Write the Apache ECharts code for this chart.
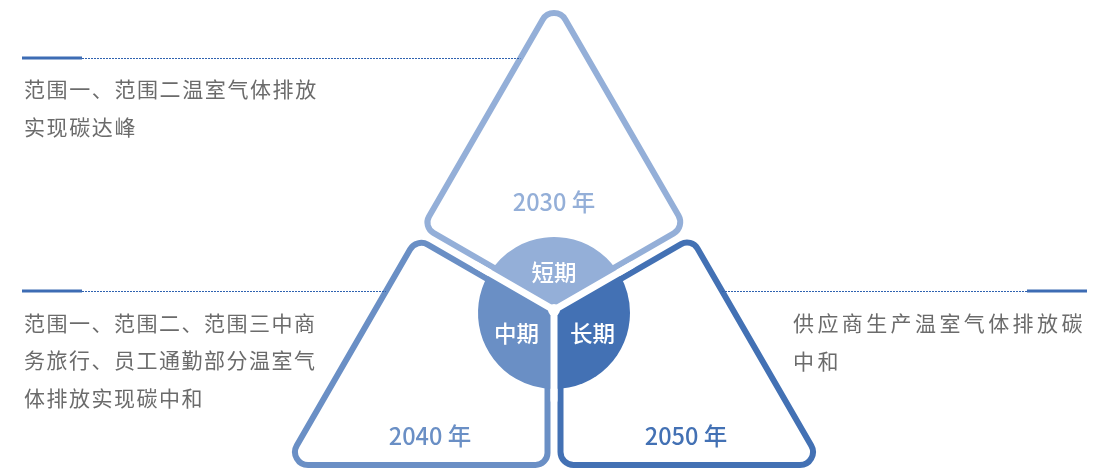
<!DOCTYPE html>
<html>
<head>
<meta charset="utf-8">
<script src="https://cdn.jsdelivr.net/npm/echarts/dist/echarts.min.js"></script>
<style>
html,body{margin:0;padding:0;background:#fff;}
#chart{width:1109px;height:470px;}
</style>
</head>
<body>
<div id="chart"></div>
<script>
// ---- data ----
const phases = ['短期', '中期', '长期'];
const phaseShare = [1, 1, 1];
const years = ['2030 年', '2040 年', '2050 年'];
const descTop = ['范围一、范围二温室气体排放', '实现碳达峰'];
const descMid = ['范围一、范围二、范围三中商', '务旅行、员工通勤部分温室气', '体排放实现碳中和'];
const descRight = ['供应商生产温室气体排放碳', '中和'];

// ---- style / layout ----
const colors = ['#94afd8', '#6a8fc5', '#4371b4'];
const FONT = '"Noto Sans CJK SC", "Noto Sans", sans-serif';
const textGray = '#6b6b6b';
const lineBlue = '#3d6cb4';

const CX = 554, TOPY = 0, BASEY = 465;
const HALF = (BASEY - TOPY) / Math.sqrt(3);
const VT = [CX, TOPY], VBL = [CX - HALF, BASEY], VBR = [CX + HALF, BASEY];
const J = [CX, (TOPY + 2 * BASEY) / 3];
const mid = (a, b) => [(a[0] + b[0]) / 2, (a[1] + b[1]) / 2];
const ML = mid(VT, VBL), MR = mid(VT, VBR), MB = mid(VBL, VBR);
const D = 6.5; // offset of stroke centre from divider
function toward(p, q, dist) {
  const l = Math.hypot(q[0] - p[0], q[1] - p[1]);
  return [p[0] + (q[0] - p[0]) / l * dist, p[1] + (q[1] - p[1]) / l * dist];
}
const innerDist = D / Math.sin(Math.PI / 3);
const kites = [
  { pts: [VT, toward(MR, VT, D), toward(J, VT, innerDist), toward(ML, VT, D)], label: [CX, 202] },
  { pts: [VBL, toward(ML, VBL, D), toward(J, VBL, innerDist), toward(MB, VBL, D)], label: [430, 436] },
  { pts: [VBR, toward(MB, VBR, D), toward(J, VBR, innerDist), toward(MR, VBR, D)], label: [686, 436] }
];
const radii = [13, 13, 6, 12];

function roundedPath(pts, rs) {
  let d = '';
  const n = pts.length;
  for (let i = 0; i < n; i++) {
    const P = pts[i], A = pts[(i - 1 + n) % n], B = pts[(i + 1) % n];
    const la = Math.hypot(A[0] - P[0], A[1] - P[1]), lb = Math.hypot(B[0] - P[0], B[1] - P[1]);
    const ua = [(A[0] - P[0]) / la, (A[1] - P[1]) / la], ub = [(B[0] - P[0]) / lb, (B[1] - P[1]) / lb];
    const th = Math.acos(Math.max(-1, Math.min(1, ua[0] * ub[0] + ua[1] * ub[1])));
    let t = rs[i] / Math.tan(th / 2);
    t = Math.min(t, la / 2, lb / 2);
    const r = t * Math.tan(th / 2);
    const p1 = [P[0] + ua[0] * t, P[1] + ua[1] * t], p2 = [P[0] + ub[0] * t, P[1] + ub[1] * t];
    const h = (4 / 3) * Math.tan((Math.PI - th) / 4) * r;
    const c1 = [p1[0] - ua[0] * h, p1[1] - ua[1] * h], c2 = [p2[0] - ub[0] * h, p2[1] - ub[1] * h];
    d += (i === 0 ? 'M' : 'L') + p1[0].toFixed(2) + ',' + p1[1].toFixed(2) +
      'C' + c1[0].toFixed(2) + ',' + c1[1].toFixed(2) + ' ' + c2[0].toFixed(2) + ',' + c2[1].toFixed(2) + ' ' +
      p2[0].toFixed(2) + ',' + p2[1].toFixed(2);
  }
  return d + 'Z';
}

function spaced(s) { return s.split('').map(c => '{c|' + c + '}').join(''); }
function descTexts(lines, x, y0, step, cw) {
  return lines.map((ln, k) => ({
    type: 'text', z: 20,
    style: {
      text: spaced(ln), x: x, y: y0 + k * step, verticalAlign: 'middle', textVerticalAlign: 'middle',
      rich: { c: { width: cw, fontSize: 21, fontFamily: FONT, fill: textGray, color: textGray } }
    }
  }));
}
function header(y, solid, dotted) {
  return [
    { type: 'line', z: 20, shape: { x1: dotted[0], y1: y + 0.5, x2: dotted[1], y2: y + 0.5 },
      style: { stroke: '#2f62b0', lineWidth: 1, lineDash: [2, 1] } },
    { type: 'line', z: 21, shape: { x1: solid[0], y1: y, x2: solid[1], y2: y },
      style: { stroke: lineBlue, lineWidth: 3 } }
  ];
}
const sideX = y => (y - TOPY) / Math.sqrt(3);

const PIE_C = [CX, 313], PIE_R = 76;
const gapLines = [ML, MR, MB].map(m => {
  const e = toward(J, m, 90);
  return { type: 'line', z: 100, shape: { x1: J[0], y1: J[1], x2: e[0], y2: e[1] },
    style: { stroke: '#fff', lineWidth: 7, lineCap: 'round' } };
});

const chart = echarts.init(document.getElementById('chart'), null, { renderer: 'canvas' });
chart.setOption({
  animation: false,
  backgroundColor: '#fff',
  series: [
    {
      type: 'custom',
      coordinateSystem: 'none',
      silent: true,
      z: 1,
      data: phases.map((p, i) => [i]),
      renderItem: function (params) {
        const i = params.dataIndex;
        const k = kites[i];
        return {
          type: 'group',
          children: [
            { type: 'path', shape: { pathData: roundedPath(k.pts, radii) },
              style: { fill: '#fff', stroke: colors[i], lineWidth: 6 } },
            { type: 'text', style: { text: years[i], x: k.label[0], y: k.label[1],
                textAlign: 'center', textVerticalAlign: 'middle', verticalAlign: 'middle',
                fill: colors[i], fontSize: 23.5, fontWeight: 500, fontFamily: FONT } }
          ]
        };
      }
    },
    {
      type: 'pie',
      z: 5,
      silent: true,
      center: PIE_C,
      radius: [0, PIE_R],
      startAngle: 30,
      clockwise: false,
      data: phases.map((p, i) => ({
        name: p, value: phaseShare[i], itemStyle: { color: colors[i] },
        label: i === 0 ? { padding: [0, 0, 10, 0] } : { padding: [0, i === 1 ? 4 : 0, 6, i === 2 ? 6 : 0] }
      })),
      label: { show: true, position: 'inside', formatter: '{b}', color: '#fff', fontSize: 22.5,
        fontWeight: 500, fontFamily: FONT },
      labelLine: { show: false },
      emphasis: { disabled: true }
    }
  ],
  graphic: [
    ...gapLines,
    { type: 'circle', z: 100, shape: { cx: J[0], cy: J[1], r: 6 }, style: { fill: '#fff' } },
    ...header(58, [22, 82], [82, CX - sideX(58)]),
    ...header(291, [22, 82], [82, CX - sideX(291)]),
    ...header(291, [1027, 1087], [CX + sideX(291), 1027]),
    ...descTexts(descTop, 24, 89, 38, 22.6),
    ...descTexts(descMid, 24, 323, 37.5, 22.5),
    ...descTexts(descRight, 793, 323, 38, 24.4)
  ]
});
</script>
</body>
</html>
